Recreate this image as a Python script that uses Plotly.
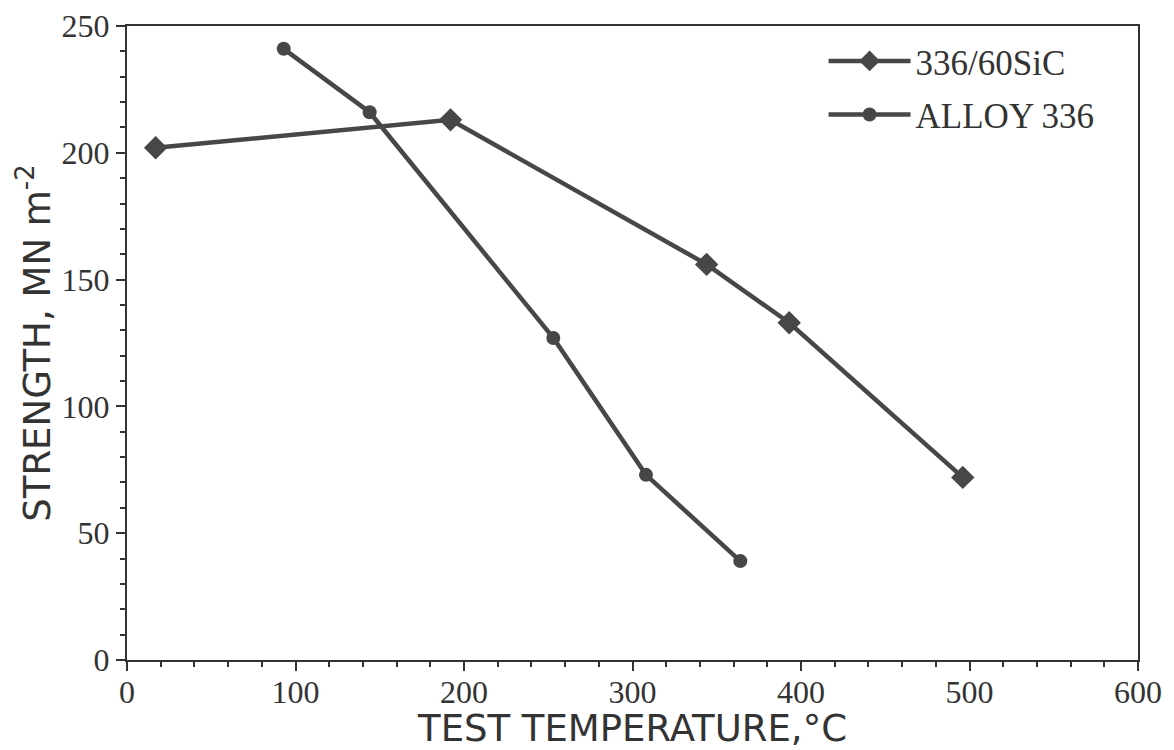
import plotly.graph_objects as go

sic_temp = [17, 192, 344, 393, 496]
sic_strength = [202, 213, 156, 133, 72]
alloy_temp = [93, 144, 253, 308, 364]
alloy_strength = [241, 216, 127, 73, 39]

series_names = ["336/60SiC", "ALLOY 336"]
x_ticks = [0, 100, 200, 300, 400, 500, 600]
y_ticks = [0, 50, 100, 150, 200, 250]

col = "#474747"
axcol = "#333333"
fig = go.Figure()
fig.add_trace(go.Scatter(
    x=sic_temp, y=sic_strength, mode="lines+markers", name=series_names[0],
    legendgroup="a",
    line=dict(color=col, width=4.5),
    marker=dict(symbol="diamond", size=18, color=col),
))
fig.add_trace(go.Scatter(
    x=alloy_temp, y=alloy_strength, mode="lines+markers", name=series_names[1],
    legendgroup="b",
    line=dict(color=col, width=4.5),
    marker=dict(symbol="circle", size=14, color=col),
))

fig.update_layout(
    width=1166, height=742,
    margin=dict(l=119, r=36, t=18, b=90, autoexpand=False),
    paper_bgcolor="white", plot_bgcolor="white",
    showlegend=True,
    legend=dict(
        x=0.689, y=0.991, xanchor="left", yanchor="top",
        font=dict(family="Liberation Serif", size=35, color="#333"),
        bgcolor="rgba(0,0,0,0)", tracegroupgap=5, itemwidth=82,
        traceorder="grouped",
    ),
    xaxis=dict(
        range=[0, 600], tickvals=x_ticks, ticktext=[str(v) for v in x_ticks],
        showgrid=False, zeroline=False, automargin=False,
        showline=True, linecolor=axcol, linewidth=2, mirror=True,
        ticks="outside", ticklen=9, tickwidth=2, tickcolor=axcol,
        ticklabeloverflow="allow", ticklabelstandoff=-6,
        minor=dict(dtick=20, ticks="outside", ticklen=5, tickwidth=2, tickcolor=axcol),
        tickfont=dict(family="Liberation Serif", size=32, color="#333"),
        title=dict(text="TEST TEMPERATURE,°C",
                   font=dict(family="DejaVu Sans", size=37, color="#333"), standoff=16),
    ),
    yaxis=dict(
        range=[0, 250], tickvals=y_ticks, ticktext=[str(v) for v in y_ticks],
        showgrid=False, zeroline=False, automargin=False,
        showline=True, linecolor=axcol, linewidth=2, mirror=True,
        ticks="outside", ticklen=9, tickwidth=2, tickcolor=axcol,
        ticklabeloverflow="allow",
        minor=dict(dtick=10, ticks="outside", ticklen=5, tickwidth=2, tickcolor=axcol),
        tickfont=dict(family="Liberation Serif", size=32, color="#333"),
        title=dict(text="STRENGTH, MN m<sup>-2</sup>",
                   font=dict(family="DejaVu Sans", size=37, color="#333"), standoff=0),
    ),
)

fig.write_html("out.html")
